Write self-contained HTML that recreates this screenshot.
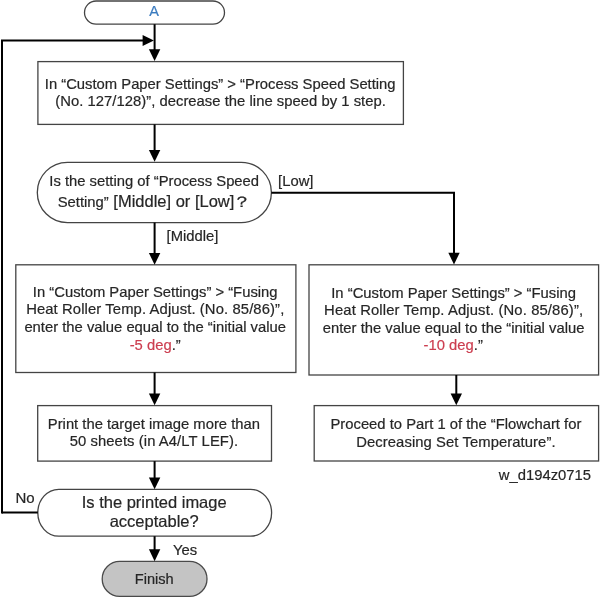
<!DOCTYPE html>
<html><head><meta charset="utf-8">
<style>
html,body{margin:0;padding:0;background:#fff;width:600px;height:598px;overflow:hidden}
svg{display:block;will-change:transform}
text{font-family:"Liberation Sans",sans-serif;fill:#262626;stroke:#262626;stroke-width:0.2}
.s{fill:none;stroke:#444;stroke-width:1.3}
.c{fill:none;stroke:#000;stroke-width:2}
.a{fill:#000;stroke:none}
</style></head><body>
<svg width="600" height="598" viewBox="0 0 600 598">

<rect class="s" x="84.5" y="1" width="140" height="23.2" rx="11.6" ry="11.6"/>
<rect class="s" x="37.9" y="61.6" width="365.5" height="62.8"/>
<rect class="s" x="37.3" y="162.3" width="234.1" height="60.3" rx="30.15" ry="30.15"/>
<rect class="s" x="15.8" y="264.8" width="280.1" height="107.7"/>
<rect class="s" x="309" y="264.8" width="289.6" height="110.2"/>
<rect class="s" x="37.7" y="405.6" width="233.8" height="55.5"/>
<rect class="s" x="314.2" y="405.6" width="284.4" height="55.4"/>
<rect class="s" x="37.8" y="489.3" width="233.8" height="46.9" rx="21" ry="23.45"/>
<rect class="s" x="102.2" y="561.4" width="104.8" height="35" rx="17.5" ry="17.5" style="fill:#c4c4c4;stroke:#4a4a4a"/>
<path class="c" d="M154.6 24.2V50"/>
<path class="a" d="M148.9 49.2H160.3L154.6 60.9Z"/>
<path class="c" d="M2 513.6V40.6H143.5"/>
<path class="c" d="M2 512.6H37.8"/>
<path class="a" d="M142.6 35.1V46.1L153.9 40.6Z"/>
<path class="c" d="M154.6 124.4V150.5"/>
<path class="a" d="M148.9 150H160.3L154.6 161.8Z"/>
<path class="c" d="M154.6 222.6V253.5"/>
<path class="a" d="M148.9 253H160.3L154.6 264.8Z"/>
<path class="c" d="M271.4 192.8H454V253"/>
<path class="a" d="M448.3 252.7H459.7L454 264.4Z"/>
<path class="c" d="M154.6 372.5V394"/>
<path class="a" d="M148.9 393.5H160.3L154.6 405.3Z"/>
<path class="c" d="M456.3 375V394"/>
<path class="a" d="M450.6 393.4H462L456.3 405.2Z"/>
<path class="c" d="M154.6 461.1V478"/>
<path class="a" d="M148.9 477.4H160.3L154.6 489.2Z"/>
<path class="c" d="M154.6 536.2V550"/>
<path class="a" d="M148.9 549.3H160.3L154.6 561.2Z"/>

<text x="154" y="16.3" font-size="14.5" text-anchor="middle" style="fill:#3b7bbf;stroke:#3b7bbf">A</text>
<text id="t0" x="220.20" y="88.60" font-size="14.8" text-anchor="middle">In “Custom Paper Settings” &gt; “Process Speed Setting</text>
<text id="t1" x="220.60" y="106.20" font-size="14.8" text-anchor="middle" textLength="330.60" lengthAdjust="spacing">(No. 127/128)”, decrease the line speed by 1 step.</text>
<text id="t2" x="154.20" y="186.00" font-size="14.8" text-anchor="middle">Is the setting of “Process Speed</text>
<text id="t3" x="57.70" y="206.80" font-size="14.8">Setting”</text>
<text id="t4" x="113.30" y="207.00" font-size="16.5">[Middle] or [Low]</text>
<text id="t5" x="155.20" y="296.70" font-size="14.8" text-anchor="middle">In “Custom Paper Settings” &gt; “Fusing</text>
<text id="t6" x="155.20" y="314.20" font-size="14.8" text-anchor="middle" textLength="258.10" lengthAdjust="spacing">Heat Roller Temp. Adjust. (No. 85/86)”,</text>
<text id="t7" x="155.20" y="331.70" font-size="14.8" text-anchor="middle">enter the value equal to the “initial value</text>
<text id="t8" x="155.20" y="349.90" font-size="14.8" text-anchor="middle"><tspan style="fill:#cc3e50;stroke:#cc3e50">-5 deg</tspan>.”</text>
<text id="t9" x="453.60" y="297.90" font-size="14.8" text-anchor="middle">In “Custom Paper Settings” &gt; “Fusing</text>
<text id="t10" x="453.60" y="315.40" font-size="14.8" text-anchor="middle" textLength="259.00" lengthAdjust="spacing">Heat Roller Temp. Adjust. (No. 85/86)”,</text>
<text id="t11" x="453.60" y="332.90" font-size="14.8" text-anchor="middle">enter the value equal to the “initial value</text>
<text id="t12" x="453.20" y="350.40" font-size="14.8" text-anchor="middle"><tspan style="fill:#cc3e50;stroke:#cc3e50">-10 deg</tspan>.”</text>
<text id="t13" x="153.90" y="428.80" font-size="14.8" text-anchor="middle">Print the target image more than</text>
<text id="t14" x="153.90" y="446.40" font-size="14.8" text-anchor="middle" textLength="168.40" lengthAdjust="spacing">50 sheets (in A4/LT LEF).</text>
<text id="t15" x="455.90" y="429.10" font-size="14.8" text-anchor="middle">Proceed to Part 1 of the “Flowchart for</text>
<text id="t16" x="455.90" y="446.60" font-size="14.8" text-anchor="middle" textLength="199.30" lengthAdjust="spacing">Decreasing Set Temperature”.</text>
<text id="t17" x="154.25" y="583.60" font-size="14.6" text-anchor="middle">Finish</text>
<text id="t18" x="278.10" y="185.70" font-size="14.8">[Low]</text>
<text id="t19" x="166.60" y="240.90" font-size="14.8">[Middle]</text>
<text id="t20" x="498.80" y="480.40" font-size="14.8">w_d194z0715</text>
<text id="t21" x="15.40" y="503.20" font-size="15">No</text>
<text id="t22" x="172.90" y="554.70" font-size="14.8">Yes</text>
<text id="t23" x="154.20" y="507.90" font-size="16.5" text-anchor="middle">Is the printed image</text>
<text id="t24" x="154.20" y="527.40" font-size="16.5" text-anchor="middle">acceptable?</text>
<text transform="translate(232.2 206.8) scale(1.18 0.9)" x="0" y="0" font-size="16.5">？</text>
</svg>
</body></html>
